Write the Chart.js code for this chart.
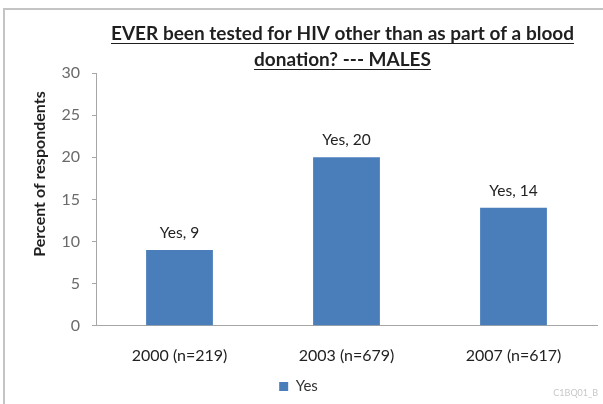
<!DOCTYPE html>
<html>
<head>
<meta charset="utf-8">
<script src="https://cdn.jsdelivr.net/npm/chart.js@4/dist/chart.umd.min.js"></script>
<style>
  html, body { margin: 0; padding: 0; background: #fff; }
  #wrap { width: 603px; height: 404px; }
</style>
</head>
<body>
<div id="wrap"><canvas id="graph" width="603" height="404"></canvas></div>
<script>
// chart values
const categories = ["2000 (n=219)", "2003 (n=679)", "2007 (n=617)"];
const yesValues = [9, 20, 14];
const seriesName = "Yes";
const titleLines = ["EVER been tested for HIV other than as part of a blood", "donation? --- MALES"];
const yTitle = "Percent of respondents";
const yTicks = [0, 5, 10, 15, 20, 25, 30];
const footNote = "C1BQ01_B";

const fontFamily = "Lato, 'Open Sans', sans-serif";

// frame, titles, bar labels and footnote drawn on the canvas
const decorations = {
  id: "decorations",
  beforeDraw(chart) {
    const ctx = chart.ctx;
    ctx.save();
    ctx.fillStyle = "#fff";
    ctx.fillRect(0, 0, chart.width, chart.height);
    ctx.strokeStyle = "#c4c4c4";
    ctx.lineWidth = 2;
    ctx.beginPath();
    ctx.moveTo(4, chart.height);
    ctx.lineTo(4, 9);
    ctx.lineTo(chart.width, 9);
    ctx.stroke();
    ctx.restore();
  },
  afterDraw(chart) {
    const ctx = chart.ctx;
    const area = chart.chartArea;
    const cx = (area.left + area.right) / 2 - 4;
    ctx.save();
    ctx.font = "bold 19px " + fontFamily;
    ctx.fillStyle = "#1f1f1f";
    ctx.strokeStyle = "#1f1f1f";
    ctx.textAlign = "center";
    ctx.textBaseline = "middle";
    ctx.lineWidth = 1.2;
    titleLines.forEach((line, i) => {
      const y = 34 + i * 26;
      ctx.fillText(line, cx, y);
      const w = ctx.measureText(line).width;
      ctx.beginPath();
      ctx.moveTo(cx - w / 2, y + 9.5);
      ctx.lineTo(cx + w / 2, y + 9.5);
      ctx.stroke();
    });

    // y axis title, sits a bit above the middle of the plot like the original
    ctx.save();
    ctx.translate(40, 174);
    ctx.rotate(-Math.PI / 2);
    ctx.font = "bold 16px " + fontFamily;
    ctx.fillText(yTitle, 0, 0);
    ctx.restore();

    // value labels above bars
    ctx.font = "15.5px " + fontFamily;
    ctx.fillStyle = "#222";
    ctx.textBaseline = "middle";
    const meta = chart.getDatasetMeta(0);
    meta.data.forEach((bar, i) => {
      ctx.fillText(seriesName + ", " + yesValues[i], bar.x, bar.y - 17);
    });

    ctx.font = "9px " + fontFamily;
    ctx.fillStyle = "#c8c8c8";
    ctx.textAlign = "right";
    ctx.textBaseline = "middle";
    ctx.fillText(footNote, 598, 393);
    ctx.restore();
  }
};

const ctx = document.getElementById("graph");

new Chart(ctx, {
  type: "bar",
  data: {
    labels: categories,
    datasets: [{
      label: seriesName,
      data: yesValues,
      backgroundColor: "#4a7ebb",
      borderWidth: 0,
      barPercentage: 0.4,
      categoryPercentage: 1.0
    }]
  },
  options: {
    responsive: false,
    animation: false,
    layout: { padding: { top: 73, right: 6, left: 0, bottom: 0 } },
    plugins: {
      title: { display: false },
      tooltip: { enabled: false },
      legend: {
        position: "bottom",
        labels: {
          boxWidth: 9,
          boxHeight: 9,
          padding: 2,
          color: "#333",
          font: { family: fontFamily, size: 15 }
        }
      }
    },
    scales: {
      x: {
        grid: { display: false },
        border: { display: true, color: "#a6a6a6" },
        ticks: {
          color: "#222",
          padding: 12,
          font: { family: fontFamily, size: 16 }
        }
      },
      y: {
        min: 0,
        max: 30,
        afterBuildTicks: (scale) => { scale.ticks = yTicks.map(v => ({ value: v })); },
        afterFit: (scale) => { scale.width = 96; },
        grid: { drawOnChartArea: false, drawTicks: true, tickLength: 4, color: "#a6a6a6" },
        border: { display: true, color: "#a6a6a6" },
        ticks: {
          color: "#6a6a6a",
          padding: 12,
          font: { family: fontFamily, size: 16 }
        }
      }
    }
  },
  plugins: [decorations]
});
</script>
</body>
</html>
